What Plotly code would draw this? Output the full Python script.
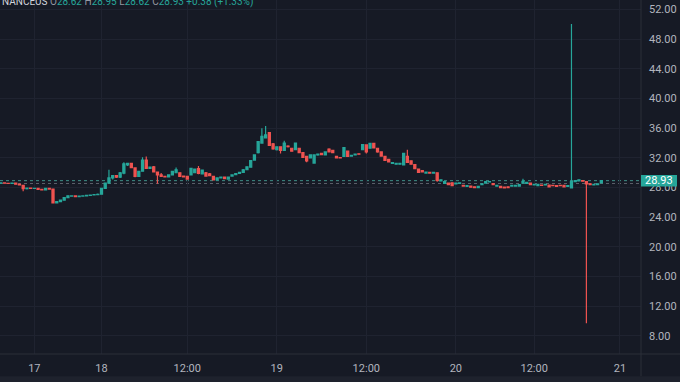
import plotly.graph_objects as go

# ---- data (30-min bars) ----
opens = [28.60,28.62,28.58,28.55,28.60,28.45,28.30,27.85,27.92,27.88,27.90,27.75,27.68,27.88,27.80,25.95,26.10,26.30,26.65,26.85,
         26.88,26.78,26.85,26.88,26.95,27.00,27.05,27.10,27.90,28.60,29.30,29.60,29.40,29.95,31.05,31.25,30.65,29.50,30.20,31.70,
         30.60,30.80,30.10,29.70,29.50,29.45,29.70,30.00,30.00,29.55,29.50,29.70,30.00,30.55,29.85,30.00,29.85,29.50,29.05,29.30,
         29.40,29.15,29.55,29.75,29.90,30.05,30.40,30.75,31.70,32.70,34.00,34.70,35.40,33.90,33.10,33.50,33.00,33.60,33.30,33.10,
         33.30,32.70,32.20,32.00,31.30,32.40,32.60,32.40,33.20,33.00,32.20,32.05,32.20,32.90,32.25,32.40,32.55,33.10,33.75,33.30,
         33.95,33.30,32.80,32.20,31.80,31.25,31.15,31.15,31.05,32.20,31.60,31.10,30.50,30.30,29.95,30.05,29.95,30.00,28.90,28.55,
         28.60,28.65,28.50,28.55,28.30,28.15,28.20,28.10,28.00,28.40,28.60,28.75,28.55,28.20,28.15,28.05,28.10,28.20,28.20,28.20,
         28.60,28.55,28.60,28.35,28.25,28.35,28.35,28.35,28.30,28.25,28.30,28.30,28.15,27.95,28.80,28.90,28.95,28.80,28.50,28.35,
         28.40,28.62]
highs = [28.68,28.70,28.66,28.64,28.65,28.55,28.35,28.00,27.98,27.95,27.95,27.80,27.95,27.92,27.85,26.15,26.35,26.70,26.95,26.95,
         26.92,26.90,26.92,27.00,27.05,27.10,27.20,27.95,28.70,30.40,29.70,29.65,30.10,31.40,31.35,31.30,30.70,30.25,32.10,32.20,
         30.85,30.90,30.15,29.95,29.60,29.75,30.25,30.70,30.05,29.60,29.55,30.65,30.55,30.90,30.45,30.10,29.95,29.55,29.40,29.45,
         29.45,29.50,29.80,29.95,30.10,30.50,30.85,31.70,32.45,34.25,36.00,36.30,35.50,34.00,33.55,33.55,34.30,33.70,33.35,34.05,
         33.35,32.75,32.25,32.45,32.45,32.60,32.70,32.85,33.30,33.10,32.25,32.10,33.45,32.95,32.40,32.55,32.60,33.85,33.80,34.00,
         34.00,33.35,32.85,32.25,31.85,31.45,31.30,31.30,32.65,33.10,31.65,31.15,30.55,30.35,30.15,30.10,30.10,30.05,29.10,28.85,
         28.65,28.70,28.65,28.70,28.35,28.30,28.25,28.15,28.20,28.55,28.85,28.90,28.60,28.35,28.20,28.10,28.15,28.35,28.35,28.45,
         29.20,28.75,28.65,28.50,28.50,28.40,28.50,28.40,28.35,28.30,28.35,28.35,28.30,50.05,29.00,29.10,29.00,28.85,28.55,28.50,
         28.55,28.95]
lows = [28.50,28.55,28.50,28.48,28.40,28.30,27.50,27.75,27.80,27.82,27.70,27.62,27.65,27.75,25.85,25.90,26.05,26.25,26.60,26.78,
        26.72,26.74,26.80,26.84,26.90,26.95,27.00,27.05,27.85,28.55,29.10,29.30,29.30,29.80,30.90,30.60,29.40,29.45,30.15,30.50,
        30.55,30.05,28.50,29.45,29.40,29.40,29.65,29.95,29.45,29.40,29.10,29.65,29.95,29.80,29.80,29.50,29.55,29.00,29.00,29.25,
        29.15,29.10,29.50,29.70,29.85,30.00,30.35,30.70,31.65,32.60,33.90,34.60,33.60,33.10,33.00,32.60,32.95,33.40,32.85,33.05,
        32.65,32.00,31.40,31.95,31.25,32.30,32.35,32.35,32.75,32.65,31.95,31.95,32.15,32.15,32.20,32.35,32.45,33.05,32.60,33.25,
        33.30,32.70,32.20,31.60,31.40,31.20,31.10,31.10,31.00,31.35,31.10,30.50,30.00,30.05,29.90,29.90,29.90,28.80,28.85,28.50,
        28.35,28.20,28.45,28.50,28.15,28.10,28.00,27.95,27.95,28.35,28.55,28.70,28.35,28.15,27.95,27.90,27.95,28.15,28.15,28.15,
        28.55,28.50,28.35,28.30,28.20,28.25,28.30,28.05,28.20,28.10,28.20,28.05,28.10,27.90,28.75,28.85,28.80,9.70,28.35,28.30,
        28.35,28.62]
closes = [28.62,28.58,28.55,28.60,28.45,28.35,27.85,27.92,27.88,27.90,27.75,27.68,27.88,27.80,25.95,26.10,26.30,26.65,26.90,26.88,
          26.78,26.85,26.88,26.95,27.00,27.05,27.10,27.90,28.60,29.30,29.60,29.40,30.00,31.20,31.25,30.70,29.50,30.20,31.70,30.60,
          30.75,30.10,29.70,29.50,29.45,29.70,30.20,30.40,29.50,29.45,29.15,30.60,30.50,29.90,30.35,29.55,29.60,29.05,29.30,29.40,
          29.20,29.40,29.70,29.90,30.05,30.40,30.80,31.65,32.40,34.20,34.90,35.10,33.70,33.20,33.50,33.00,34.00,33.50,32.90,34.00,
          32.70,32.05,31.60,32.40,32.40,32.50,32.45,32.80,32.80,32.70,32.00,32.00,33.40,32.20,32.35,32.50,32.50,33.80,32.80,33.95,
          33.35,32.80,32.25,31.65,31.45,31.35,31.25,31.25,32.60,31.40,31.15,30.55,30.05,30.10,30.10,29.95,30.05,28.95,29.05,28.80,
          28.40,28.25,28.60,28.62,28.20,28.25,28.05,28.00,28.15,28.50,28.80,28.80,28.40,28.30,28.00,27.95,28.00,28.30,28.30,28.40,
          28.85,28.70,28.40,28.45,28.45,28.30,28.45,28.10,28.25,28.15,28.25,28.10,28.25,28.80,28.95,29.05,28.85,28.50,28.40,28.45,
          28.50,28.93]
bar_index = list(range(len(closes)))

tick_bars = [9, 27, 50, 74, 98, 122, 143, 166]
tick_labels = ["17", "18", "12:00", "19", "12:00", "20", "12:00", "21"]

last_price = 28.93
prev_close = 28.55
price_ticks = [8, 12, 16, 20, 24, 28, 32, 36, 40, 44, 48, 52]

# ---- styling ----
BG = "#161a25"
GRID = "#1f2330"
AXIS_LINE = "#2a2e39"
TXT = "#b2b5be"
UP = "#26a69a"
DOWN = "#ef5350"
FONT = "Roboto"

fig = go.Figure()
fig.add_trace(go.Candlestick(
    x=bar_index, open=opens, high=highs, low=lows, close=closes,
    increasing=dict(line=dict(color=UP, width=1.2), fillcolor=UP),
    decreasing=dict(line=dict(color=DOWN, width=1.2), fillcolor=DOWN),
    whiskerwidth=0, showlegend=False, hoverinfo="skip",
))

shapes = [
    dict(type="line", xref="paper", yref="y", x0=0, x1=1, y0=prev_close, y1=prev_close,
         line=dict(color="#5d606b", width=1, dash="dot"), layer="below"),
    dict(type="line", xref="paper", yref="y", x0=0, x1=1, y0=last_price, y1=last_price,
         line=dict(color="#3e8f88", width=1, dash="dot"), layer="below"),
    dict(type="line", xref="paper", yref="paper", x0=1, x1=1, y0=-0.063, y1=1,
         line=dict(color=AXIS_LINE, width=1)),
    dict(type="line", xref="paper", yref="paper", x0=0, x1=1.061, y0=0, y1=0,
         line=dict(color=AXIS_LINE, width=1)),
    dict(type="rect", xref="paper", yref="paper", x0=-0.01, x1=1.08, y0=-0.0625, y1=-0.09,
         fillcolor="#1e222d", line=dict(width=0)),
    dict(type="rect", xref="paper", yref="y", x0=1.0, x1=1.0 + 36 / 641,
         y0=last_price - 0.77, y1=last_price + 0.77, fillcolor=UP, line=dict(width=0)),
]

annotations = [
    dict(xref="paper", yref="y", x=1.0 + 18 / 641, y=last_price, text=f"{last_price:.2f}",
         showarrow=False, xanchor="center", yanchor="middle",
         font=dict(family=FONT, size=11, color="#ffffff")),
    dict(xref="paper", yref="paper", x=0, y=1, xanchor="left", yanchor="middle", yshift=-2,
         showarrow=False,
         text=("<span style='color:#d1d4dc'>NANCEUS</span> "
               "<span style='color:#9598a1'>O</span><span style='color:#26a69a'>28.62</span> "
               "<span style='color:#9598a1'>H</span><span style='color:#26a69a'>28.95</span> "
               "<span style='color:#9598a1'>L</span><span style='color:#26a69a'>28.62</span> "
               "<span style='color:#9598a1'>C</span><span style='color:#26a69a'>28.93</span> "
               "<span style='color:#26a69a'>+0.38 (+1.33%)</span>"),
         font=dict(family=FONT, size=10, color="#d1d4dc")),
]

fig.update_layout(
    width=680, height=382,
    margin=dict(l=0, r=39, t=0, b=28),
    paper_bgcolor=BG, plot_bgcolor=BG,
    font=dict(family=FONT, size=11, color=TXT),
    shapes=shapes, annotations=annotations,
    showlegend=False,
    xaxis=dict(
        range=[-0.21, 171.64], rangeslider=dict(visible=False),
        tickmode="array", tickvals=tick_bars, ticktext=tick_labels,
        showgrid=True, gridcolor=GRID, gridwidth=1, zeroline=False,
        showline=False, ticks="", ticklabelstandoff=6, automargin=False,
        tickfont=dict(family=FONT, size=11, color=TXT),
    ),
    yaxis=dict(
        side="right", range=[5.57, 53.28],
        tickmode="array", tickvals=price_ticks, ticktext=[f"{v:.2f}" for v in price_ticks],
        showgrid=True, gridcolor=GRID, gridwidth=1, zeroline=False,
        showline=False, ticks="", ticklabelstandoff=7, automargin=False,
        tickfont=dict(family=FONT, size=11, color=TXT),
    ),
    boxgap=0.2,
)

fig.write_html(
    "out.html",
    config={"displayModeBar": False},
    post_script="document.body.style.margin='0';document.body.style.overflow='hidden';",
)
